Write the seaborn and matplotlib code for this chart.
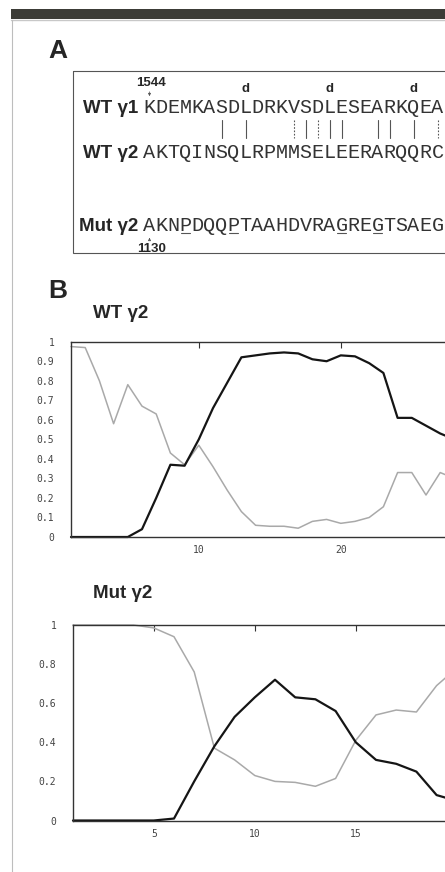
import matplotlib
matplotlib.use("Agg")
import matplotlib.pyplot as plt
import seaborn as sns
import pandas as pd
from matplotlib.patches import Rectangle

# panel A: alignment of the coiled-coil region
seq_wt1 = "KDEMKASDLDRKVSDLESEARKQEA"
seq_wt2 = "AKTQINSQLRPMMSELEERARQQRC"
seq_mut = "AKNPDQQPTAAHDVRAGREGTSAEG"
heptad_d = [8, 15, 22]          # positions marked "d"
identical = [6, 8, 13, 15, 16, 19, 20, 22]
similar = [12, 14, 24]
mut_subst = [3, 7, 16, 19]      # underlined residues in the mutant
start_wt1 = "1544"
start_mut = "1130"

# panel B: coiled-coil probability per position
wt_pos = list(range(1, 29))
wt_coil = [0, 0, 0, 0, 0, 0.04, 0.2, 0.37, 0.365, 0.5, 0.66, 0.79, 0.92, 0.93,
           0.94, 0.945, 0.94, 0.91, 0.9, 0.93, 0.925, 0.89, 0.84, 0.61, 0.61,
           0.57, 0.53, 0.5]
wt_other = [0.975, 0.97, 0.8, 0.58, 0.78, 0.67, 0.63, 0.43, 0.37, 0.47, 0.36,
            0.24, 0.13, 0.06, 0.055, 0.055, 0.045, 0.08, 0.09, 0.07, 0.08, 0.1,
            0.155, 0.33, 0.33, 0.215, 0.33, 0.3]
mut_pos = list(range(1, 21))
mut_coil = [0, 0, 0, 0, 0, 0.01, 0.2, 0.38, 0.53, 0.63, 0.72, 0.63, 0.62, 0.56,
            0.4, 0.31, 0.29, 0.25, 0.13, 0.1]
mut_other = [1, 1, 1, 1, 0.985, 0.94, 0.76, 0.37, 0.31, 0.23, 0.2, 0.195, 0.175,
             0.215, 0.41, 0.54, 0.565, 0.555, 0.69, 0.78]

W, H = 445, 872
sns.set_style("white")
plt.rcParams["font.family"] = ["Liberation Sans", "DejaVu Sans"]

fig = plt.figure(figsize=(W / 100, H / 100), dpi=100)


def px_rect(left, top, right, bottom):
    return [left / W, 1 - bottom / H, (right - left) / W, (bottom - top) / H]


def draw_chart(rect, pos, coil, other, xlim, xticks, yticks):
    ax = fig.add_axes(rect)
    df = pd.DataFrame({"pos": pos + pos,
                       "p": other + coil,
                       "kind": ["other"] * len(pos) + ["coil"] * len(pos)})
    sns.lineplot(data=df[df.kind == "other"], x="pos", y="p", color="#a9a9a9",
                 lw=1.1, ax=ax, legend=False)
    sns.lineplot(data=df[df.kind == "coil"], x="pos", y="p", color="#151515",
                 lw=1.6, ax=ax, legend=False)
    for ln in ax.lines:
        ln.set_clip_on(False)
    ax.set_xlim(*xlim)
    ax.set_ylim(0, 1)
    ax.set_xticks(xticks)
    ax.set_yticks(yticks)
    ax.set_yticklabels([f"{v:g}" for v in yticks])
    ax.set_xlabel("")
    ax.set_ylabel("")
    for s in ax.spines.values():
        s.set_color("#333333")
        s.set_linewidth(1.0)
    ax.tick_params(direction="in", length=4, width=0.8, top=True, right=False,
                   colors="#333333", labelsize=7)
    ax.tick_params(axis="y", pad=12)
    ax.tick_params(axis="x", pad=6)
    for lab in ax.get_xticklabels() + ax.get_yticklabels():
        lab.set_family("DejaVu Sans Mono")
        lab.set_color("#444444")
    return ax


# only the ticks that fall inside the picture
draw_chart(px_rect(71, 341.7, 71 + 29 * 14.2, 537), wt_pos, wt_coil, wt_other,
           (1, 30), [10, 20], [i / 10 for i in range(11)])
draw_chart(px_rect(73, 625, 73 + 21 * 20.2, 820.5), mut_pos, mut_coil, mut_other,
           (1, 22), [5, 10, 15], [0, 0.2, 0.4, 0.6, 0.8, 1])

# overlay in pixel coordinates for frame and panel A
ax0 = fig.add_axes([0, 0, 1, 1])
ax0.set_xlim(0, W)
ax0.set_ylim(H, 0)
ax0.axis("off")

ax0.add_patch(Rectangle((11, 9), W - 11, 10, color="#3c3c37", lw=0))
ax0.plot([11, W], [20.5, 20.5], color="#c8c8c8", lw=1)
ax0.plot([12, 12], [20, H], color="#bdbdbd", lw=0.8)

ax0.text(48, 58, "A", fontsize=19, fontweight="bold", va="baseline")
ax0.text(48, 298, "B", fontsize=19, fontweight="bold", va="baseline")

ax0.add_patch(Rectangle((73, 71), 420, 182, fill=False, ec="#555555", lw=0.8))

x0, cw = 143.5, 12.0
rows = [(seq_wt1, "WT γ1", 113), (seq_wt2, "WT γ2", 158), (seq_mut, "Mut γ2", 231)]
for seq, label, base in rows:
    ax0.text(138, base, label, fontsize=13.5, fontweight="bold", ha="right",
             va="baseline")
    for i, ch in enumerate(seq):
        ax0.text(x0 + cw * (i + 0.5), base, ch, fontsize=14.5, family="Liberation Mono",
                 ha="center", va="baseline", color="#333333")

cx = lambda i: x0 + cw * (i + 0.5)
for i in heptad_d:
    ax0.text(cx(i), 92, "d", fontsize=9.5, fontweight="bold", ha="center", va="baseline")
for i in identical:
    ax0.plot([cx(i), cx(i)], [120, 138], color="#555555", lw=0.8)
for i in similar:
    ax0.plot([cx(i), cx(i)], [120, 138], color="#555555", lw=0.8, ls=(0, (1.5, 1.5)))
for i in mut_subst:
    ax0.plot([cx(i) - 4.5, cx(i) + 4.5], [233.5, 233.5], color="#555555", lw=0.8)

ax0.text(151, 86, start_wt1, fontsize=9.5, fontweight="bold", ha="center", va="baseline")
ax0.annotate("", xy=(cx(0), 99), xytext=(cx(0), 89),
             arrowprops=dict(arrowstyle="-|>", lw=0.5, color="#555555",
                             mutation_scale=4))
ax0.text(151.5, 251.5, start_mut, fontsize=9.5, fontweight="bold", ha="center",
         va="baseline")
ax0.annotate("", xy=(cx(0), 235), xytext=(cx(0), 242),
             arrowprops=dict(arrowstyle="-|>", lw=0.5, color="#555555",
                             mutation_scale=4))

ax0.text(93, 318, "WT γ2", fontsize=13.5, fontweight="bold", va="baseline")
ax0.text(93, 598, "Mut γ2", fontsize=13.5, fontweight="bold", va="baseline")

fig.savefig("out.png", dpi=100)
